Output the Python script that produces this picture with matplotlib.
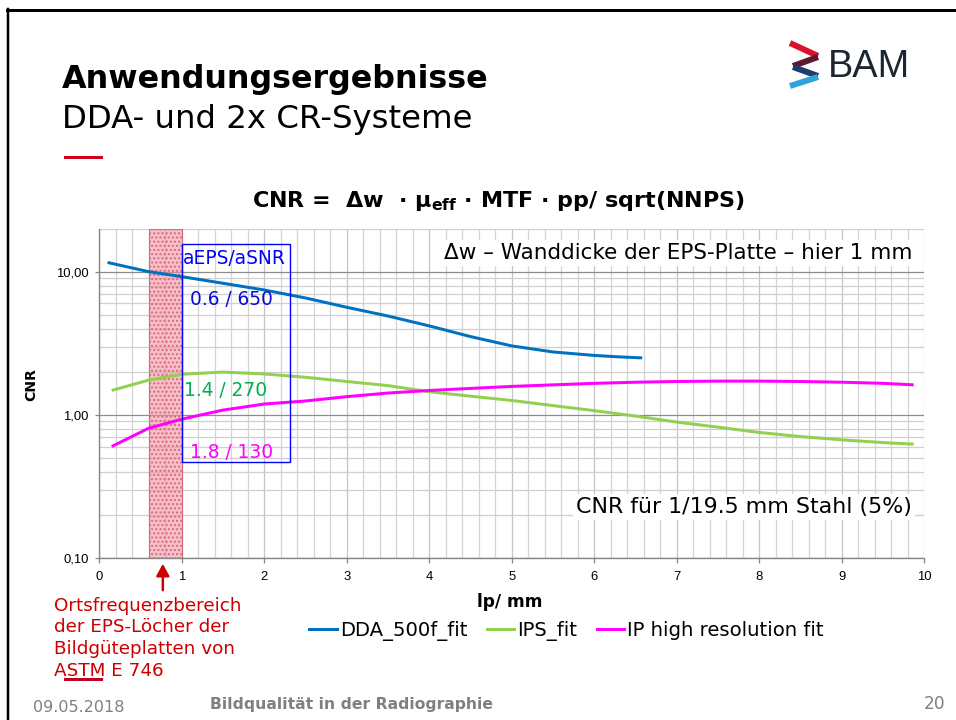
import matplotlib
matplotlib.use('Agg')
import matplotlib.pyplot as plt
from matplotlib.patches import Rectangle, FancyArrowPatch
from matplotlib.lines import Line2D
from matplotlib.ticker import LogLocator, MultipleLocator, FixedLocator, NullFormatter

# ---------------- data ----------------
dda_x = [0.1, 0.6, 1.0, 1.5, 2.0, 2.5, 3.0, 3.5, 4.0, 4.5, 5.0, 5.5, 6.0, 6.3, 6.58]
dda_y = [11.6, 10.0, 9.23, 8.3, 7.45, 6.55, 5.64, 4.9, 4.18, 3.52, 3.03, 2.75, 2.6, 2.54, 2.50]

ips_x = [0.15, 0.6, 1.0, 1.5, 2.0, 2.5, 3.0, 3.5, 4.0, 4.5, 5.0, 5.5, 6.0, 6.5, 7.0, 7.5, 8.0, 8.5, 9.0, 9.5, 9.87]
ips_y = [1.48, 1.75, 1.92, 1.99, 1.93, 1.83, 1.71, 1.60, 1.45, 1.35, 1.26, 1.16, 1.07, 0.98, 0.89, 0.82, 0.753, 0.705, 0.669, 0.64, 0.624]

iphr_x = [0.15, 0.6, 1.0, 1.5, 2.0, 2.5, 3.0, 3.5, 4.0, 4.5, 5.0, 5.5, 6.0, 6.5, 7.0, 7.5, 8.0, 8.5, 9.0, 9.5, 9.87]
iphr_y = [0.601, 0.807, 0.933, 1.08, 1.19, 1.25, 1.34, 1.42, 1.48, 1.53, 1.58, 1.62, 1.66, 1.69, 1.71, 1.72, 1.72, 1.71, 1.69, 1.66, 1.62]

series_names = ['DDA_500f_fit', 'IPS_fit', 'IP high resolution fit']
series_colors = ['#0070c0', '#92d050', '#ff00ff']

x_ticks = list(range(0, 11))
y_ticks = [0.1, 1.0, 10.0]
y_ticklabels = ['0,10', '1,00', '10,00']

band_range = (0.6, 1.0)          # Ortsfrequenzbereich der EPS-Löcher
box_x = (1.0, 2.31)              # aEPS/aSNR box
box_y = (0.468, 15.5)
arrow_x = 0.77

box_labels = ['aEPS/aSNR', '0.6 / 650', '1.4 / 270', '1.8 / 130']
box_label_colors = ['#0000ff', '#0a0ad8', '#00b050', '#ff00ff']

# ---------------- figure ----------------
W, H = 956, 720
fig = plt.figure(figsize=(W / 100, H / 100), dpi=100)
fig.patch.set_facecolor('white')


def fx(px):
    return px / W


def fy(py):
    return 1 - py / H


def pt(px):
    return px * 0.72


SANS = ['DejaVu Sans']
ARIAL = ['Liberation Sans', 'DejaVu Sans']
NARROW = ['Liberation Sans Narrow', 'Liberation Sans', 'DejaVu Sans']

# slide frame
fig.add_artist(Line2D([fx(8), fx(8)], [fy(9), 0], color='black', lw=pt(2.5), transform=fig.transFigure))
fig.add_artist(Line2D([fx(7), 1], [fy(10), fy(10)], color='black', lw=pt(3), transform=fig.transFigure))

# slide title
fig.text(fx(62), fy(88), 'Anwendungsergebnisse', fontsize=pt(31.8), fontweight='bold',
         family=SANS, ha='left', va='baseline', color='black')
fig.text(fx(62), fy(128), 'DDA- und 2x CR-Systeme', fontsize=pt(32.4),
         family=SANS, ha='left', va='baseline', color='black')
fig.add_artist(Rectangle((fx(64), fy(159)), fx(39), 3 / H, facecolor='#d0021b',
                         edgecolor='none', transform=fig.transFigure))

# BAM logo
segs = [((790, 43), (818, 56), '#d9132a'),
        ((818, 57), (793, 66), '#5a1a30'),
        ((793, 67), (818, 76), '#1c3d6e'),
        ((818, 77), (790, 86), '#2ea3dc')]
for (x0, y0), (x1, y1), c in segs:
    fig.add_artist(Line2D([fx(x0), fx(x1)], [fy(y0), fy(y1)], color=c, lw=pt(6),
                          solid_capstyle='butt', transform=fig.transFigure))
fig.text(fx(828), fy(77), 'BAM', fontsize=pt(38), family=ARIAL, ha='left', va='baseline',
         color='#1b2631')

# chart title
fig.text(fx(499), fy(207), r'CNR =  Δw  · μ$_{\mathbf{eff}}$ · MTF · pp/ sqrt(NNPS)',
         fontsize=pt(22.3), fontweight='bold', family=SANS, ha='center', va='baseline',
         color='black')

# ---------------- axes ----------------
x_left, x_right = 99.3, 924.4
y_top, y_bot = 228.6, 558.0
ax = fig.add_axes([fx(x_left), fy(y_bot), (x_right - x_left) / W, (y_bot - y_top) / H])
ax.set_facecolor('white')
ax.set_yscale('log')
ax.set_xlim(0, 10)
ax.set_ylim(0.1, 20)

ax.xaxis.set_major_locator(FixedLocator(x_ticks))
ax.xaxis.set_minor_locator(MultipleLocator(0.2))
ax.yaxis.set_major_locator(FixedLocator(y_ticks))
ax.yaxis.set_minor_locator(LogLocator(base=10, subs=range(2, 10)))
ax.yaxis.set_minor_formatter(NullFormatter())
ax.set_yticklabels(y_ticklabels)
ax.set_xticklabels([str(t) for t in x_ticks])

ax.grid(which='major', axis='y', color='#8c8c8c', lw=0.9, zorder=0)
ax.grid(which='minor', axis='y', color='#cfcfcf', lw=0.9, zorder=0)
ax.grid(which='major', axis='x', color='#c4c4c4', lw=0.9, zorder=0)
ax.grid(which='minor', axis='x', color='#d4d4d4', lw=0.9, zorder=0)
ax.set_axisbelow(True)

for s in ['top', 'right']:
    ax.spines[s].set_visible(False)
for s in ['left', 'bottom']:
    ax.spines[s].set_color('#868686')
    ax.spines[s].set_linewidth(1.0)

ax.tick_params(axis='both', which='major', direction='out', length=pt(4.5), width=0.9,
               color='#868686', labelsize=pt(13), labelcolor='black')
ax.tick_params(axis='x', which='major', pad=pt(8))
ax.tick_params(axis='y', which='major', pad=pt(6))
ax.tick_params(axis='both', which='minor', length=0)
for lab in ax.get_xticklabels() + ax.get_yticklabels():
    lab.set_family(NARROW)

# shaded spatial frequency band
ax.add_patch(Rectangle((band_range[0], 0.1), band_range[1] - band_range[0], 20 - 0.1,
                       facecolor=(0.94, 0.55, 0.62, 0.55), edgecolor='#d86a7a',
                       hatch='....', lw=0.8, zorder=1.5))

# curves
for xs, ys, c, n in zip([dda_x, ips_x, iphr_x], [dda_y, ips_y, iphr_y], series_colors, series_names):
    ax.plot(xs, ys, color=c, lw=pt(3), solid_capstyle='butt', label=n, zorder=3)

# aEPS/aSNR box
ax.add_patch(Rectangle((box_x[0], box_y[0]), box_x[1] - box_x[0], box_y[1] - box_y[0],
                       fill=False, edgecolor='#0000ff', lw=1.0, zorder=4))

# axis labels
fig.text(fx(510), fy(607), 'lp/ mm', fontsize=pt(17), fontweight='bold', family=SANS,
         ha='center', va='baseline')
fig.text(fx(31), fy(385), 'CNR', fontsize=pt(14), fontweight='bold', family=SANS,
         ha='center', va='center', rotation=90)

# box labels
box_pos = [(183, 264), (190, 305), (184, 396), (190, 458)]
for (px, py), t, c in zip(box_pos, box_labels, box_label_colors):
    fig.text(fx(px), fy(py), t, fontsize=pt(18.7), family=SANS, color=c, ha='left', va='baseline',
             zorder=5)

# annotations with white background
fig.text(fx(912), fy(259), 'Δw – Wanddicke der EPS-Platte – hier 1 mm', fontsize=pt(21.5),
         family=SANS, ha='right', va='baseline', color='black',
         bbox=dict(facecolor='white', edgecolor='none', pad=2))
fig.text(fx(912), fy(513), 'CNR für 1/19.5 mm Stahl (5%)', fontsize=pt(22.2),
         family=SANS, ha='right', va='baseline', color='black',
         bbox=dict(facecolor='white', edgecolor='none', pad=2))

# legend
handles = [Line2D([], [], color=c, lw=pt(3)) for c in series_colors]
fig.legend(handles, series_names, loc='center', bbox_to_anchor=(fx(566.5), fy(631)),
           ncol=3, frameon=False, prop={'family': 'DejaVu Sans', 'size': pt(19.6)},
           handlelength=1.4, handletextpad=0.15, columnspacing=1.0, borderpad=0,
           borderaxespad=0)

# red annotation with arrow
red_lines = ['Ortsfrequenzbereich', 'der EPS-Löcher der', 'Bildgüteplatten von', 'ASTM E 746']
red_base = [611, 632.5, 654.3, 676]
for t, b in zip(red_lines, red_base):
    fig.text(fx(54), fy(b), t, fontsize=pt(18.4), family=SANS, color='#cc0000',
             ha='left', va='baseline')
fig.add_artist(Rectangle((fx(64), fy(681)), fx(39), 3 / H, facecolor='#c00020',
                         edgecolor='none', transform=fig.transFigure))

arr_px = x_left + arrow_x * (x_right - x_left) / 10
fig.add_artist(FancyArrowPatch((fx(arr_px), fy(593)), (fx(arr_px), fy(561)),
                               arrowstyle='-|>,head_length=0.55,head_width=0.3',
                               mutation_scale=pt(18), color='#cc0000', lw=pt(2.5),
                               transform=fig.transFigure))

# footer
fig.text(fx(33), fy(712), '09.05.2018', fontsize=pt(16), family=SANS, color='#808080',
         ha='left', va='baseline')
fig.text(fx(210), fy(709), 'Bildqualität in der Radiographie', fontsize=pt(15.6),
         fontweight='bold', family=SANS, color='#808080', ha='left', va='baseline')
fig.text(fx(945), fy(709), '20', fontsize=pt(17), family=SANS, color='#808080',
         ha='right', va='baseline')

fig.savefig('out.png', dpi=100, facecolor='white')
